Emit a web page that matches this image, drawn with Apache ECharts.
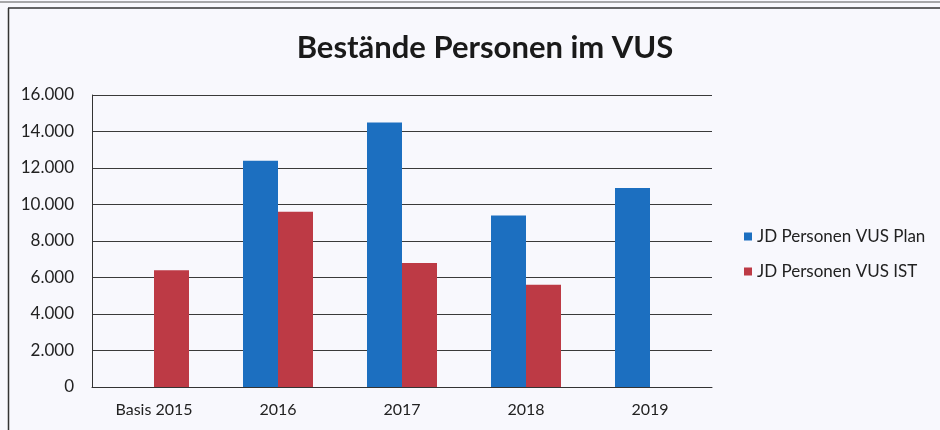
<!DOCTYPE html>
<html>
<head>
<meta charset="utf-8">
<script src="https://cdn.jsdelivr.net/npm/echarts@6/dist/echarts.min.js"></script>
<style>
  html, body { margin: 0; padding: 0; background: #f8f8fd; }
  #main { width: 940px; height: 430px; }
</style>
</head>
<body>
<div id="main"></div>
<script>
// Kategorien und Werte
const categories = ["Basis 2015", "2016", "2017", "2018", "2019"];
const planValues = [null, 12400, 14500, 9400, 10900];
const istValues = [6400, 9600, 6800, 5600, null];
const seriesNames = ["JD Personen VUS Plan", "JD Personen VUS IST"];

const chart = echarts.init(document.getElementById("main"), null, { renderer: "canvas" });

const fmt = function (v) {
  // Tausenderpunkt wie im Original
  return String(v).replace(/\B(?=(\d{3})+(?!\d))/g, ".");
};

const option = {
  backgroundColor: "#f8f8fd",
  animation: false,
  title: {
    text: "Bestände Personen im VUS",
    left: 480,
    top: 27,
    textAlign: "center",
    textStyle: {
      fontFamily: "Lato",
      fontWeight: "bold",
      fontSize: 31,
      color: "#1a1a1a"
    }
  },
  legend: {
    orient: "vertical",
    left: 739,
    top: 223,
    itemWidth: 8,
    itemHeight: 8,
    itemGap: 18,
    icon: "rect",
    textStyle: {
      fontFamily: "Lato",
      fontSize: 17,
      color: "#222"
    },
    data: seriesNames
  },
  grid: {
    left: 92,
    right: 228,
    top: 95,
    bottom: 43,
    show: false
  },
  xAxis: {
    type: "category",
    data: categories,
    axisTick: { show: false },
    axisLine: { show: true, lineStyle: { color: "#333", width: 1 } },
    axisLabel: {
      margin: 15,
      fontFamily: "Lato",
      fontSize: 16,
      color: "#222"
    }
  },
  yAxis: {
    type: "value",
    min: 0,
    max: 16000,
    interval: 2000,
    axisLine: { show: true, lineStyle: { color: "#333", width: 1 } },
    axisTick: { show: false },
    axisLabel: {
      margin: 18,
      fontFamily: "Lato",
      fontSize: 17,
      color: "#222",
      formatter: fmt
    },
    splitLine: { show: true, lineStyle: { color: "#3a3a3a", width: 1 } }
  },
  series: [
    {
      name: seriesNames[0],
      type: "bar",
      data: planValues,
      barWidth: 35,
      barGap: "0%",
      itemStyle: { color: "#1c6fc0" }
    },
    {
      name: seriesNames[1],
      type: "bar",
      data: istValues,
      barWidth: 35,
      barGap: "0%",
      itemStyle: { color: "#bd3a45" }
    }
  ],
  graphic: [
    // Rahmen wie im Scan
    { type: "line", shape: { x1: 0, y1: 2, x2: 940, y2: 2 }, style: { stroke: "#555", lineWidth: 1 } },
    { type: "line", shape: { x1: 8, y1: 8, x2: 940, y2: 8 }, style: { stroke: "#333", lineWidth: 1.5 } },
    { type: "line", shape: { x1: 8.5, y1: 8, x2: 8.5, y2: 430 }, style: { stroke: "#333", lineWidth: 1.5 } }
  ]
};

chart.setOption(option);
</script>
</body>
</html>
